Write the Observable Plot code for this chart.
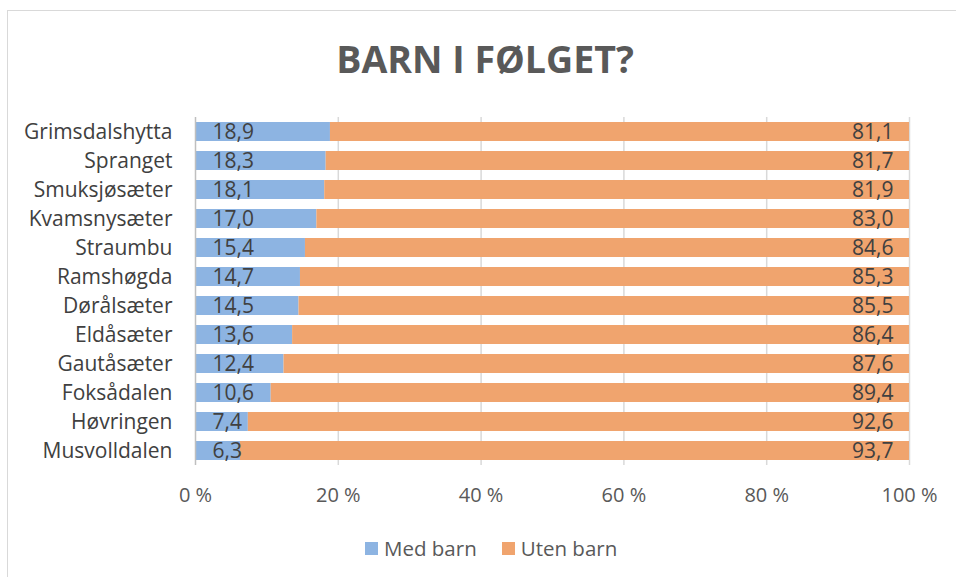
<!DOCTYPE html>
<html><head><meta charset="utf-8">
<script src="https://cdn.jsdelivr.net/npm/d3@7"></script>
<script src="https://cdn.jsdelivr.net/npm/@observablehq/plot@0.6"></script>
<style>
body{margin:0;background:#fff;font-family:"Open Sans",sans-serif;}
#wrap{position:relative;width:956px;height:577px;overflow:hidden;background:#fff;}
#frame{position:absolute;left:7px;top:10px;width:1000px;height:620px;border:1.5px solid #d9d9d9;box-sizing:border-box;}
#title{position:absolute;left:0;width:970px;top:40px;text-align:center;font-weight:700;font-size:37.5px;line-height:1;color:#595959;white-space:nowrap;}
#chart{position:absolute;left:0;top:100px;}
#legend{position:absolute;left:365px;top:538px;display:flex;align-items:center;font-size:20.5px;line-height:1;color:#595959;}
#legend .sw{display:inline-block;width:13px;height:13px;margin-right:6px;}
#legend .item{display:flex;align-items:center;margin-right:25px;}
</style></head>
<body>
<div id="wrap">
<div id="frame"></div>
<div id="title">BARN I FØLGET?</div>
<div id="chart"></div>
<div id="legend"></div>
</div>
<script>
const names = ["Grimsdalshytta","Spranget","Smuksjøsæter","Kvamsnysæter","Straumbu","Ramshøgda","Dørålsæter","Eldåsæter","Gautåsæter","Foksådalen","Høvringen","Musvolldalen"];
const medBarn  = [18.9,18.3,18.1,17.0,15.4,14.7,14.5,13.6,12.4,10.6,7.4,6.3];
const utenBarn = [81.1,81.7,81.9,83.0,84.6,85.3,85.5,86.4,87.6,89.4,92.6,93.7];
const series = ["Med barn","Uten barn"];
const colors = ["#8DB4E2","#F0A46E"];
const xTicks = [0,20,40,60,80,100];

const rows = [];
names.forEach((n,i)=>{
  rows.push({name:n, series:series[0], value:medBarn[i]});
  rows.push({name:n, series:series[1], value:utenBarn[i]});
});
const fmt = v => d3.format(".1f")(v).replace(".", ",");
const med = rows.filter(d=>d.series===series[0]);
const uten = rows.filter(d=>d.series===series[1]);

const chart = Plot.plot({
  width:956, height:420,
  marginLeft:195, marginRight:47, marginTop:17, marginBottom:55,
  style:{fontFamily:"Open Sans", fontSize:"20px", color:"#595959", background:"transparent"},
  x:{domain:[0,100], label:null},
  y:{domain:names, paddingInner:0.345, paddingOuter:0.172, label:null},
  color:{domain:series, range:colors},
  marks:[
    Plot.ruleX(xTicks.slice(1), {stroke:"#d9d9d9", strokeWidth:1.5}),
    Plot.barX(rows, Plot.stackX({y:"name", x:"value", fill:"series", order:series})),
    Plot.ruleX([0], {stroke:"#bfbfbf", strokeWidth:1.5}),
    Plot.text(med, {x:0, y:"name", text:d=>fmt(d.value), dx:17, textAnchor:"start", fill:"#404040", fontSize:21}),
    Plot.text(uten, {x:100, y:"name", text:d=>fmt(d.value), dx:-16, textAnchor:"end", fill:"#404040", fontSize:21}),
    Plot.axisX({ticks:xTicks, tickFormat:d=>d+" %", tickSize:0, tickPadding:22, fontSize:20, fill:"#595959", label:null}),
    Plot.axisY({tickSize:0, tickPadding:23, fontSize:21, fill:"#404040", label:null})
  ]
});
document.getElementById("chart").appendChild(chart);

const leg = document.getElementById("legend");
series.forEach((s,i)=>{
  const it = document.createElement("span");
  it.className="item";
  it.innerHTML = `<span class="sw" style="background:${colors[i]}"></span><span>${s}</span>`;
  leg.appendChild(it);
});
</script>
</body></html>
